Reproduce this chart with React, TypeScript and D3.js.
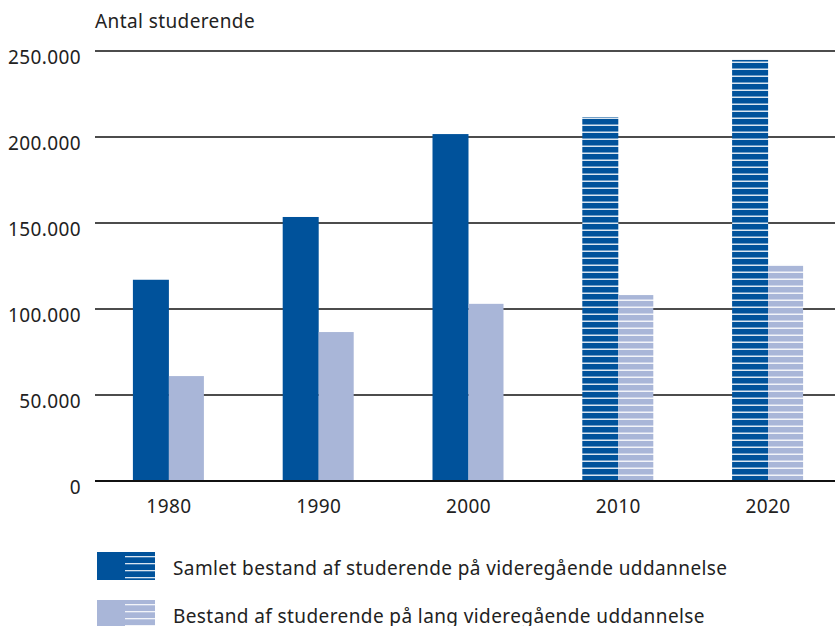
import React from "react";
import * as d3 from "d3";

const years = ["1980", "1990", "2000", "2010", "2020"];
const totalStudents = [117000, 153500, 201700, 211600, 244800];
const longStudents = [61000, 86600, 103000, 108100, 125600];
const projected = [false, false, false, true, true];
const yTicks = [0, 50000, 100000, 150000, 200000, 250000];
const legendLabels = [
  "Samlet bestand af studerende på videregående uddannelse",
  "Bestand af studerende på lang videregående uddannelse",
];

const DARK = "#00529b";
const LIGHT = "#a9b6d8";
const FONT = "'Noto Sans', 'Open Sans', sans-serif";

export default function App() {
  const W = 835;
  const H = 626;
  const x = d3.scaleBand<string>().domain(years).range([94, 843]);
  const y = d3.scaleLinear().domain([0, 250000]).range([481, 51]);
  const barW = 36;
  const fmt = (v: number) =>
    v === 0 ? "0" : d3.format(",")(v).replace(/,/g, ".");

  return (
    <svg
      width={W}
      height={H}
      style={{ position: "absolute", left: 0, top: 0, background: "#fff" }}
      fontFamily={FONT}
      letterSpacing={0.4}
    >
      <defs>
        <pattern id="stripeDark" patternUnits="userSpaceOnUse" width={8} height={7} y={0}>
          <rect width={8} height={7} fill={DARK} />
          <rect y={5.5} width={8} height={1.5} fill="#ffffff" opacity={0.85} />
        </pattern>
        <pattern id="stripeLight" patternUnits="userSpaceOnUse" width={8} height={7} y={0}>
          <rect width={8} height={7} fill={LIGHT} />
          <rect y={5.5} width={8} height={1.5} fill="#ffffff" opacity={0.85} />
        </pattern>
      </defs>
      <text x={95} y={28} fontSize={19} fill="#222">
        Antal studerende
      </text>
      {yTicks.map((t) => (
        <g key={t}>
          {t > 0 && (
            <line x1={95} x2={835} y1={y(t)} y2={y(t)} stroke="#111" strokeWidth={1.4} />
          )}
          <text x={81} y={y(t) + 13} fontSize={19} textAnchor="end" fill="#222">
            {fmt(t)}
          </text>
        </g>
      ))}
      {years.map((yr, i) => {
        const c = (x(yr) ?? 0) + x.bandwidth() / 2;
        return (
          <g key={yr}>
            <rect
              x={c - barW}
              y={y(totalStudents[i])}
              width={barW}
              height={y(0) - y(totalStudents[i])}
              fill={projected[i] ? "url(#stripeDark)" : DARK}
            />
            <rect
              x={c}
              y={y(longStudents[i])}
              width={barW - 1}
              height={y(0) - y(longStudents[i])}
              fill={projected[i] ? "url(#stripeLight)" : LIGHT}
            />
            <text x={c} y={513} fontSize={19} textAnchor="middle" fill="#222">
              {yr}
            </text>
          </g>
        );
      })}
      <line x1={95} x2={835} y1={y(0)} y2={y(0)} stroke="#111" strokeWidth={2} />
      {legendLabels.map((lab, i) => {
        const top = 552 + i * 48;
        const col = i === 0 ? DARK : LIGHT;
        return (
          <g key={lab}>
            <rect x={97} y={top} width={58} height={28} fill={col} />
            {[0, 1, 2, 3].map((k) => (
              <rect
                key={k}
                x={125}
                y={top + 4 + k * 7}
                width={30}
                height={1.3}
                fill="#fff"
                opacity={0.85}
              />
            ))}
            <text x={173} y={top + 23} fontSize={19} fill="#222">
              {lab}
            </text>
          </g>
        );
      })}
    </svg>
  );
}
